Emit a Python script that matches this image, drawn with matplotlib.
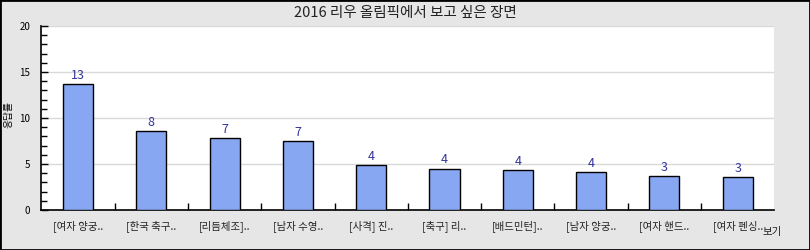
import numpy as np
import matplotlib.pyplot as plt
from matplotlib.ticker import MultipleLocator
from matplotlib.patches import Rectangle

plt.rcParams['font.family'] = ['Noto Sans CJK KR', 'DejaVu Sans']

title = '2016 리우 올림픽에서 보고 싶은 장면'
categories = ['[여자 양궁..', '[한국 축구..', '[리듬체조]..', '[남자 수영..', '[사격] 진..',
              '[축구] 리..', '[배드민턴]..', '[남자 양궁..', '[여자 핸드..', '[여자 펜싱..']
values = [13.7, 8.6, 7.8, 7.5, 4.9, 4.5, 4.3, 4.1, 3.7, 3.6]

fig = plt.figure(figsize=(8.1, 2.5), dpi=100)
fig.patch.set_facecolor('#e6e6e6')
fig.patches.append(Rectangle((0, 0), 1, 1, transform=fig.transFigure, fill=False,
                             edgecolor='black', linewidth=2))

ax = fig.add_axes([0.051, 0.16, 0.905, 0.736])
ax.set_facecolor('white')

x = np.arange(len(categories))
ax.bar(x, values, width=0.41, color='#87a7f2', edgecolor='black', linewidth=1, zorder=3)
for xi, v in zip(x, values):
    ax.text(xi, v + 0.25, str(int(v)), ha='center', va='bottom', fontsize=9,
            color='#333399', zorder=4)

ax.set_xlim(-0.5, len(categories) - 0.5)
ax.set_ylim(0, 20)
ax.yaxis.set_major_locator(MultipleLocator(5))
ax.yaxis.set_minor_locator(MultipleLocator(1))
ax.grid(axis='y', color='#d9d9d9', linewidth=1, zorder=0)

ax.set_xticks(x)
ax.set_xticklabels(categories, fontsize=7.5, color='#222222')
ax.set_xticks(np.arange(len(categories) - 1) + 0.5, minor=True)
ax.tick_params(axis='x', which='major', length=0, pad=7)
ax.tick_params(axis='x', which='minor', direction='in', length=5, width=1)
ax.tick_params(axis='y', which='major', direction='in', length=5, width=1, labelsize=7, pad=8)
ax.tick_params(axis='y', which='minor', direction='in', length=4, width=1)

for s in ['top', 'right']:
    ax.spines[s].set_visible(False)
for s in ['left', 'bottom']:
    ax.spines[s].set_linewidth(1.2)

fig.text(0.5, 0.95, title, ha='center', va='center', fontsize=10.5, color='#222222')
fig.text(0.011, 0.54, '응답률', rotation=90, ha='center', va='center', fontsize=7)
fig.text(0.953, 0.07, '보기', ha='center', va='center', fontsize=7.5, color='#222222')

fig.savefig('out.png', dpi=100, facecolor=fig.get_facecolor())
